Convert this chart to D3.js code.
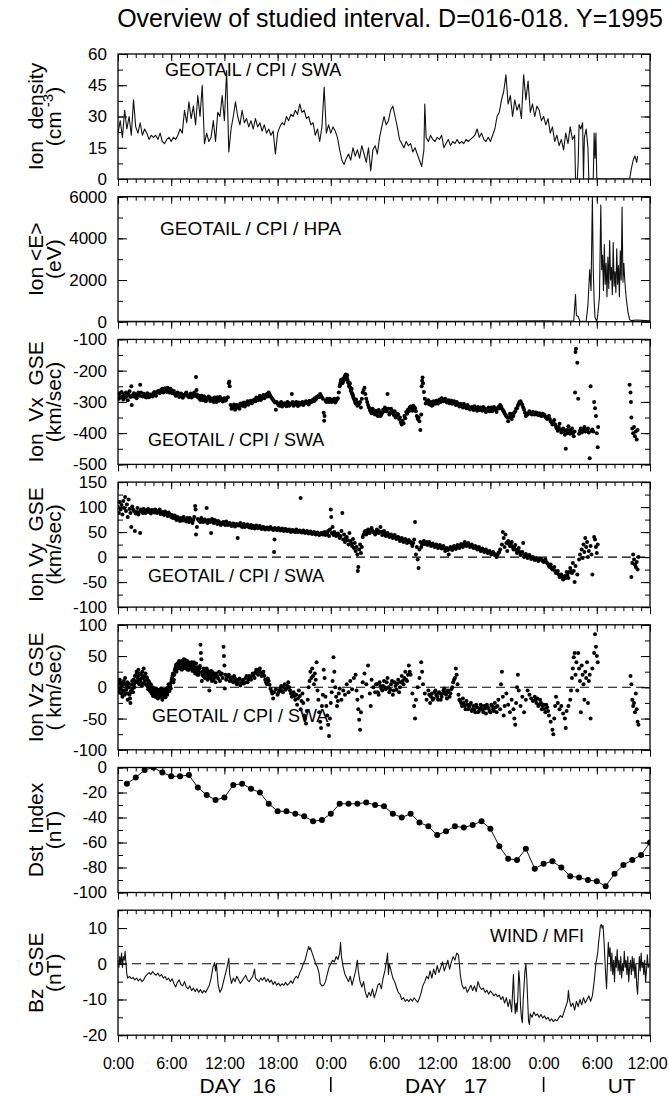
<!doctype html>
<html>
<head>
<meta charset="utf-8">
<title>Overview of studied interval</title>
<style>
  body { margin: 0; background: #fff; }
  text { font-family: "Liberation Sans", Arial, sans-serif; fill: #000; }
</style>
</head>
<body>
<script src="https://cdn.jsdelivr.net/npm/d3@7/dist/d3.min.js"></script>
<script>
// time is hours from 0:00 of day 16 (1995)

// ion density, cm-3  [hour, value]
var density = [
[0,22],[0.25,28],[0.5,20],[0.75,33],[1,24],[1.25,30],[1.5,21],[1.75,38],[2,25],[2.25,22],[2.5,27],[2.75,21],
[3,24],[3.25,22],[3.5,19],[3.75,21],[4,20],[4.25,21],[4.5,19],[4.75,22],[5,18],[5.25,17],[5.5,19],[5.75,20],
[6,18],[6.25,20],[6.5,19],[6.75,21],[7,24],[7.25,22],[7.5,33],[7.75,27],[8,37],[8.25,29],[8.5,35],[8.75,26],
[9,40],[9.25,30],[9.5,45],[9.75,17],[10,22],[10.25,18],[10.5,20],[10.75,28],[11,18],[11.25,32],[11.5,30],[11.75,40],
[12,28],[12.25,52],[12.5,13],[12.75,24],[13,30],[13.25,37],[13.5,30],[13.75,26],[14,33],[14.25,27],[14.5,29],[14.75,25],
[15,28],[15.25,24],[15.5,29],[15.75,25],[16,27],[16.25,23],[16.5,26],[16.75,22],[17,24],[17.25,21],[17.5,23],[17.75,12],
[18,22],[18.25,25],[18.5,27],[18.75,26],[19,30],[19.25,28],[19.5,31],[19.75,30],[20,33],[20.25,31],[20.5,36],[20.75,32],
[21,33],[21.25,29],[21.5,30],[21.75,26],[22,27],[22.25,21],[22.5,24],[22.75,18],[23,25],[23.25,44],[23.5,22],[23.75,26],
[24,22],[24.25,25],[24.5,23],[24.75,20],[25,14],[25.25,9],[25.5,7],[25.75,10],[26,12],[26.25,9],[26.5,15],[26.75,11],
[27,14],[27.25,10],[27.5,16],[27.75,12],[28,8],[28.25,15],[28.5,4],[28.75,14],[29,16],[29.25,12],[29.5,20],[29.75,25],
[30,30],[30.25,26],[30.5,28],[30.75,33],[31,35],[31.25,30],[31.5,25],[31.75,19],[32,17],[32.25,15],[32.5,18],[32.75,16],
[33,17],[33.25,13],[33.5,15],[33.75,12],[34,9],[34.25,6],[34.5,14],[34.6,36],[34.75,20],[35,18],[35.25,21],[35.5,19],
[35.75,18],[36,20],[36.25,19],[36.5,21],[36.75,15],[37,17],[37.25,19],[37.5,16],[37.75,18],[38,17],[38.25,19],[38.5,17],
[38.75,18],[39,17],[39.25,19],[39.5,18],[39.75,19],[40,20],[40.25,21],[40.5,24],[40.75,20],[41,22],[41.25,19],[41.5,18],
[41.75,20],[42,18],[42.25,21],[42.5,24],[42.75,30],[43,32],[43.25,38],[43.5,42],[43.75,50],[44,36],[44.25,40],[44.5,30],
[44.75,38],[45,33],[45.25,36],[45.5,29],[45.75,50],[46,38],[46.25,47],[46.5,32],[46.75,36],[47,30],[47.25,35],[47.5,33],
[47.75,28],[48,30],[48.25,26],[48.5,29],[48.75,22],[49,25],[49.25,18],[49.5,21],[49.75,16],[50,19],[50.25,14],[50.5,22],
[50.75,17],[51,25],[51.25,19],[51.5,21],[51.6,0],[51.8,0],[51.9,8],[52,26],[52.2,24],[52.4,27],[52.5,0],[52.6,20],
[52.8,24],[53,15],[53.1,0],[53.6,0],[53.7,22],[53.8,10],[53.9,22],[54,0],[57.7,0],[57.9,5],[58.1,9],[58.3,11],[58.5,8],[58.6,11]
];

// mean ion energy, eV  [hour, value]
var energy = [
[0,20],[10,25],[20,30],[30,20],[40,25],[48,40],[50,30],[51.4,30],[51.6,1300],[51.7,300],[51.9,250],[52.1,20],[52.8,20],
[53,800],[53.2,2500],[53.35,1500],[53.5,6000],[53.6,2500],[53.7,1000],[53.8,200],[54,0],[54.1,300],[54.3,1200],[54.45,5600],
[54.55,2500],[54.65,3200],[54.75,1500],[54.85,3700],[54.95,1800],[55.05,2800],[55.15,1200],[55.25,3100],[55.35,1600],
[55.45,3900],[55.55,2000],[55.65,2600],[55.75,1300],[55.85,3800],[55.95,1700],[56.05,2400],[56.15,1400],[56.25,3500],
[56.35,1800],[56.45,2700],[56.55,1200],[56.65,3400],[56.75,2000],[56.85,5500],[56.95,1900],[57.05,2800],[57.15,2000],
[57.3,1200],[57.5,500],[57.7,100],[57.9,50],[58.5,80],[60,40]
];

// ion Vx GSE, km/s  [hour, value]
var vx = [
[0,-278],[0.1,-290],[0.2,-272],[0.3,-285],[0.4,-268],[0.5,-282],[0.6,-292],[0.7,-275],[0.8,-286],[0.9,-270],[1,-281],
[1.1,-295],[1.2,-276],[1.3,-266],[1.4,-284],[1.5,-250],[1.55,-310],[1.6,-279],[1.8,-272],[2,-284],[2.2,-276],[2.4,-280],
[2.5,-245],[2.6,-270],[2.8,-283],[3,-278],[3.2,-286],[3.4,-275],[3.6,-281],[3.8,-279],[4,-272],[4.2,-277],[4.4,-270],
[4.6,-264],[4.8,-268],[5,-258],[5.2,-266],[5.4,-262],[5.6,-255],[5.8,-270],[6,-262],[6.2,-268],[6.4,-274],[6.6,-279],
[6.8,-272],[7,-281],[7.2,-276],[7.4,-283],[7.6,-275],[7.8,-279],[8,-285],[8.2,-273],[8.4,-280],[8.6,-270],[8.8,-220],
[8.85,-262],[8.9,-276],[9,-285],[9.2,-291],[9.4,-280],[9.6,-295],[9.8,-287],[10,-292],[10.2,-283],[10.4,-297],[10.6,-289],
[10.8,-300],[11,-293],[11.2,-285],[11.4,-296],[11.6,-290],[11.8,-299],[12,-288],[12.2,-294],[12.4,-285],[12.5,-240],
[12.55,-235],[12.6,-250],[12.7,-310],[12.8,-322],[13,-315],[13.2,-325],[13.4,-310],[13.6,-318],[13.8,-305],[14,-312],
[14.2,-302],[14.4,-308],[14.6,-298],[14.8,-303],[15,-296],[15.2,-300],[15.4,-292],[15.6,-286],[15.8,-295],[16,-280],
[16.2,-290],[16.4,-278],[16.6,-284],[16.8,-275],[17,-270],[17.2,-282],[17.4,-290],[17.6,-298],[17.8,-325],[18,-306],
[18.2,-312],[18.4,-300],[18.6,-310],[18.8,-304],[19,-314],[19.2,-303],[19.4,-309],[19.6,-275],[19.7,-300],[19.8,-312],
[20,-305],[20.2,-310],[20.4,-302],[20.6,-308],[20.8,-300],[21,-306],[21.2,-298],[21.4,-304],[21.6,-296],[21.8,-300],
[22,-292],[22.2,-288],[22.4,-284],[22.6,-280],[22.8,-275],[23,-285],[23.1,-290],[23.2,-335],[23.25,-360],[23.3,-345],
[23.4,-296],[23.6,-290],[23.8,-300],[24,-294],[24.2,-298],[24.4,-290],[24.6,-296],[24.8,-288],[24.9,-270],[25,-250],
[25.1,-238],[25.2,-232],[25.3,-240],[25.4,-225],[25.5,-228],[25.6,-218],[25.7,-212],[25.8,-222],[25.9,-230],[26,-238],
[26.1,-245],[26.2,-255],[26.3,-262],[26.4,-272],[26.5,-280],[26.6,-290],[26.7,-296],[26.8,-305],[26.9,-300],[27,-312],
[27.2,-305],[27.4,-318],[27.5,-290],[27.6,-270],[27.7,-262],[27.8,-255],[27.9,-275],[28,-290],[28.1,-300],[28.3,-318],
[28.5,-330],[28.7,-322],[28.9,-338],[29.1,-328],[29.3,-345],[29.5,-332],[29.7,-340],[29.9,-325],[30.1,-318],[30.3,-330],
[30.4,-275],[30.5,-322],[30.7,-335],[30.9,-328],[31.1,-342],[31.3,-350],[31.5,-338],[31.7,-355],[31.9,-365],[32,-372],
[32.1,-360],[32.3,-345],[32.5,-332],[32.7,-325],[32.9,-318],[33.1,-322],[33.3,-312],[33.5,-320],[33.7,-345],[33.8,-355],
[33.9,-350],[34,-362],[34.1,-390],[34.2,-340],[34.25,-250],[34.3,-232],[34.35,-222],[34.4,-240],[34.5,-268],[34.6,-290],
[34.7,-305],[34.9,-298],[35.1,-308],[35.3,-300],[35.5,-310],[35.7,-302],[35.9,-296],[36.1,-305],[36.3,-292],[36.5,-288],
[36.7,-298],[36.9,-290],[37.1,-302],[37.3,-295],[37.5,-300],[37.7,-306],[37.9,-298],[38.1,-310],[38.3,-304],[38.5,-315],
[38.7,-308],[38.9,-318],[39.1,-312],[39.3,-320],[39.5,-314],[39.7,-324],[39.9,-316],[40.1,-326],[40.3,-318],[40.5,-328],
[40.7,-320],[40.9,-318],[41.1,-328],[41.3,-320],[41.5,-332],[41.7,-322],[41.9,-330],[42.1,-318],[42.3,-326],[42.5,-320],
[42.7,-332],[42.9,-316],[43.1,-310],[43.3,-322],[43.5,-330],[43.7,-342],[43.9,-350],[44,-362],[44.2,-338],[44.4,-355],
[44.6,-345],[44.8,-330],[45,-320],[45.2,-305],[45.4,-298],[45.6,-310],[45.8,-325],[46,-345],[46.2,-340],[46.4,-330],
[46.6,-338],[46.8,-332],[47,-340],[47.2,-335],[47.4,-342],[47.6,-338],[47.8,-345],[48,-340],[48.2,-348],[48.4,-355],
[48.6,-345],[48.8,-362],[49,-372],[49.2,-358],[49.4,-380],[49.6,-392],[49.8,-370],[50,-398],[50.2,-385],[50.4,-405],
[50.5,-450],[50.6,-390],[50.8,-378],[51,-402],[51.2,-385],[51.4,-410],[51.5,-395],[51.55,-270],[51.6,-140],[51.65,-130],
[51.8,-175],[51.9,-290],[52,-402],[52.2,-385],[52.4,-395],[52.6,-380],[52.8,-392],[53,-385],[53.1,-398],[53.2,-480],
[53.3,-250],[53.5,-388],[53.7,-300],[53.8,-320],[53.9,-345],[54,-400],[54.1,-445],[54.15,-380],
[57.7,-245],[57.8,-270],[57.85,-300],[57.9,-350],[58,-385],[58.1,-400],[58.2,-380],[58.3,-410],[58.4,-395],[58.5,-420],[58.6,-390],
// in-between samples
[1.7,-283],[1.9,-275],[2.1,-288],[2.3,-270],[2.7,-282],[2.9,-274],[3.1,-284],[3.3,-272],[3.5,-285],[3.7,-276],[3.9,-283],
[4.1,-268],[4.3,-280],[4.5,-266],[4.7,-272],[4.9,-260],[5.1,-270],[5.3,-256],[5.5,-268],[5.7,-262],[5.9,-258],[6.1,-272],
[6.3,-265],[6.5,-280],[6.7,-270],[6.9,-284],[7.1,-273],[7.3,-287],[7.5,-278],[7.7,-270],[7.9,-282],[8.1,-278],[8.3,-286],
[8.5,-275],[8.7,-281],[9.1,-280],[9.3,-294],[9.5,-286],[9.7,-282],[9.9,-298],[10.1,-288],[10.3,-284],[10.5,-292],[10.7,-296],
[10.9,-286],[11.1,-300],[11.3,-291],[11.5,-284],[11.7,-295],[11.9,-290],[12.1,-296],[12.3,-287],[12.9,-318],[13.1,-308],
[13.3,-320],[13.5,-314],[13.7,-322],[13.9,-310],[14.1,-304],[14.3,-315],[14.5,-305],[14.7,-309],[14.9,-298],[15.1,-304],
[15.3,-295],[15.5,-298],[15.7,-290],[15.9,-287],[16.1,-294],[16.3,-284],[16.5,-288],[16.7,-279],[16.9,-283],[17.1,-276],
[17.3,-286],[17.5,-294],[17.7,-302],[17.9,-300],[18.1,-310],[18.3,-304],[18.5,-315],[18.7,-306],[18.9,-310],[19.1,-300],
[19.3,-312],[19.5,-305],[19.9,-306],[20.1,-300],[20.3,-313],[20.5,-306],[20.7,-303],[20.9,-310],[21.1,-302],[21.3,-300],
[21.5,-308],[21.7,-302],[21.9,-296],[22.1,-298],[22.3,-292],[22.5,-286],[22.7,-284],[22.9,-280],[23.5,-300],[23.7,-294],
[23.9,-290],[24.1,-300],[24.3,-292],[24.5,-302],[24.7,-292],[25.05,-245],[25.15,-230],[25.35,-236],[25.45,-232],
[25.55,-222],[25.65,-215],[25.75,-225],[25.85,-215],[25.95,-238],[26.05,-250],[26.15,-240],[26.25,-265],[26.35,-258],
[26.45,-276],[26.55,-286],[26.75,-300],[26.85,-292],[27.1,-308],[27.3,-300],[28.2,-310],[28.4,-325],[28.6,-336],[28.8,-326],
[29,-340],[29.2,-335],[29.4,-326],[29.6,-345],[29.8,-335],[30,-330],[30.2,-322],[30.6,-340],[30.8,-322],[31,-336],
[31.2,-330],[31.4,-345],[31.6,-340],[31.8,-350],[32.2,-368],[32.4,-352],[32.6,-338],[32.8,-330],[33,-315],[33.2,-328],
[33.4,-316],[33.6,-330],[34.8,-300],[35,-295],[35.2,-304],[35.4,-312],[35.6,-298],[35.8,-306],[36,-300],[36.2,-294],
[36.4,-300],[36.6,-292],[36.8,-296],[37,-294],[37.2,-298],[37.4,-304],[37.6,-296],[37.8,-302],[38,-304],[38.2,-300],
[38.4,-310],[38.6,-306],[38.8,-312],[39,-306],[39.2,-316],[39.4,-310],[39.6,-318],[39.8,-320],[40,-320],[40.2,-314],
[40.4,-322],[40.6,-316],[40.8,-326],[41,-322],[41.2,-316],[41.4,-324],[41.6,-328],[41.8,-318],[42,-326],[42.2,-330],
[42.4,-316],[42.6,-324],[42.8,-322],[43,-320],[43.2,-315],[43.4,-326],[43.6,-336],[43.8,-345],[44.1,-350],[44.3,-345],
[44.5,-338],[44.7,-335],[44.9,-322],[45.1,-312],[45.3,-300],[45.5,-305],[45.7,-318],[45.9,-335],[46.1,-340],[46.3,-336],
[46.5,-334],[46.7,-340],[46.9,-336],[47.1,-334],[47.3,-340],[47.5,-336],[47.7,-344],[47.9,-338],[48.1,-342],[48.3,-350],
[48.5,-350],[48.7,-355],[48.9,-366],[49.1,-365],[49.3,-372],[49.5,-385],[49.7,-380],[49.9,-388],[50.1,-392],[50.3,-395],
[50.7,-400],[50.9,-390],[51.1,-395],[51.3,-400],[52.1,-392],[52.3,-398],[52.5,-388],[52.7,-395],[52.9,-388],[53.4,-392],[53.6,-395]
];

// ion Vy GSE, km/s  [hour, value]
var vy = [
[0,100],[0.1,88],[0.2,110],[0.3,95],[0.4,104],[0.5,85],[0.6,112],[0.7,98],[0.8,120],[0.9,92],[1,105],[1.1,80],[1.2,115],
[1.3,96],[1.4,88],[1.5,60],[1.6,101],[1.8,92],[1.9,52],[2,87],[2.2,98],[2.4,90],[2.5,48],[2.6,95],[2.8,88],[3,93],
[3.2,90],[3.4,96],[3.6,89],[3.8,94],[4,91],[4.2,95],[4.4,88],[4.6,92],[4.8,86],[5,90],[5.2,84],[5.4,88],[5.6,82],
[5.8,86],[6,80],[6.2,78],[6.4,83],[6.6,74],[6.8,78],[7,72],[7.2,76],[7.4,80],[7.6,74],[7.8,78],[8,70],[8.2,75],[8.4,68],
[8.6,80],[8.7,102],[8.75,95],[8.8,45],[8.9,60],[9,76],[9.2,72],[9.4,78],[9.6,70],[9.8,75],[10,98],[10.1,68],[10.2,74],
[10.4,70],[10.5,48],[10.6,76],[10.8,68],[11,72],[11.2,66],[11.4,70],[11.6,64],[11.8,69],[12,66],[12.2,71],[12.4,64],
[12.6,68],[12.8,62],[13,67],[13.2,61],[13.4,66],[13.5,38],[13.6,63],[13.8,68],[14,60],[14.2,66],[14.4,62],[14.6,65],
[14.8,59],[15,64],[15.2,60],[15.4,57],[15.6,63],[15.8,58],[16,62],[16.2,56],[16.4,60],[16.6,55],[16.8,59],[17,55],
[17.2,60],[17.4,56],[17.6,10],[17.65,35],[17.7,58],[17.9,54],[18.1,58],[18.3,53],[18.5,57],[18.7,52],[18.9,56],[19.1,52],
[19.3,55],[19.5,50],[19.7,54],[19.9,51],[20.1,55],[20.3,50],[20.5,53],[20.6,118],[20.7,49],[20.9,53],[21.1,48],[21.3,52],
[21.5,47],[21.7,51],[21.9,46],[22.1,50],[22.3,45],[22.5,49],[22.7,44],[22.9,48],[23.1,45],[23.3,50],[23.5,46],[23.7,52],
[23.8,42],[23.9,55],[24,95],[24.05,80],[24.1,48],[24.2,60],[24.3,44],[24.4,50],[24.6,42],[24.8,47],[25,38],[25.2,52],
[25.3,88],[25.4,35],[25.5,45],[25.6,30],[25.8,40],[26,25],[26.1,48],[26.2,32],[26.4,22],[26.5,36],[26.6,18],[26.7,28],
[26.8,12],[26.9,20],[27,5],[27.05,-28],[27.1,-20],[27.2,15],[27.3,25],[27.4,8],[27.5,20],[27.6,40],[27.8,50],[28,45],
[28.2,55],[28.4,48],[28.6,58],[28.8,50],[29,45],[29.2,55],[29.4,48],[29.6,60],[29.8,44],[30,52],[30.2,42],[30.4,48],
[30.6,40],[30.8,45],[31,38],[31.2,44],[31.4,36],[31.6,40],[31.8,32],[32,38],[32.2,30],[32.4,36],[32.6,28],[32.8,34],
[33,30],[33.2,22],[33.4,35],[33.5,70],[33.6,5],[33.7,20],[33.8,-5],[33.9,-22],[34,15],[34.1,30],[34.3,25],[34.5,32],
[34.7,28],[34.9,24],[35.1,30],[35.3,22],[35.5,27],[35.7,20],[35.9,25],[36.1,18],[36.3,24],[36.5,17],[36.7,22],[36.9,12],
[37.1,18],[37.3,5],[37.5,20],[37.7,14],[37.9,22],[38.1,16],[38.3,24],[38.5,18],[38.7,26],[38.9,20],[39.1,30],[39.3,22],
[39.5,28],[39.7,20],[39.9,25],[40.1,18],[40.3,22],[40.5,15],[40.7,20],[40.9,12],[41.1,17],[41.3,10],[41.5,15],[41.7,8],
[41.9,12],[42.1,5],[42.3,10],[42.5,4],[42.7,0],[42.9,8],[43.1,15],[43.3,25],[43.4,50],[43.5,38],[43.6,20],[43.7,45],
[43.8,28],[43.9,12],[44,32],[44.2,22],[44.4,30],[44.6,15],[44.8,24],[45,8],[45.2,18],[45.4,4],[45.6,10],[45.7,28],
[45.8,0],[46,6],[46.2,-2],[46.4,4],[46.6,-4],[46.8,0],[47,-6],[47.2,-2],[47.4,-8],[47.6,-4],[47.8,-6],[48,-10],[48.2,-5],
[48.4,-12],[48.6,-18],[48.8,-15],[49,-25],[49.2,-20],[49.4,-32],[49.6,-28],[49.8,-40],[50,-35],[50.2,-45],[50.4,-38],
[50.6,-30],[50.8,-42],[51,-22],[51.2,-32],[51.3,-12],[51.4,-28],[51.5,-50],[51.6,-18],[51.8,-35],[52,-5],[52.1,5],
[52.3,15],[52.4,-2],[52.5,25],[52.6,10],[52.7,38],[52.8,20],[52.9,30],[53,0],[53.1,12],[53.3,22],[53.4,5],[53.5,-35],
[53.7,40],[53.8,35],[53.9,20],[54,8],[54.1,25],
[57.9,-40],[58,-12],[58.1,5],[58.2,-5],[58.3,-15],[58.4,-20],[58.5,-10],[58.6,-25],[58.7,0],
// in-between samples
[1.7,95],[2.1,90],[2.3,85],[2.7,92],[2.9,96],[3.1,88],[3.3,94],[3.5,91],[3.7,87],[3.9,93],[4.1,89],[4.3,92],[4.5,90],
[4.7,95],[4.9,88],[5.1,86],[5.3,91],[5.5,85],[5.7,89],[5.9,83],[6.1,84],[6.3,79],[6.5,77],[6.7,80],[6.9,75],[7.1,78],
[7.3,73],[7.5,76],[7.7,71],[7.9,74],[8.1,78],[8.3,72],[8.5,74],[9.1,74],[9.3,70],[9.5,75],[9.7,73],[9.9,71],[10.3,72],
[10.7,71],[10.9,74],[11.1,69],[11.3,72],[11.5,68],[11.7,67],[11.9,70],[12.1,64],[12.3,68],[12.5,66],[12.7,65],[12.9,64],
[13.1,63],[13.3,65],[13.7,64],[13.9,62],[14.1,64],[14.3,60],[14.5,63],[14.7,61],[14.9,62],[15.1,58],[15.3,62],[15.5,60],
[15.7,59],[15.9,61],[16.1,58],[16.3,59],[16.5,57],[16.7,58],[16.9,56],[17.1,58],[17.3,57],[17.5,54],[17.8,56],[18,55],
[18.2,56],[18.4,55],[18.6,54],[18.8,55],[19,53],[19.2,54],[19.4,52],[19.6,53],[19.8,52],[20,50],[20.2,53],[20.4,51],
[20.8,51],[21,50],[21.2,50],[21.4,49],[21.6,49],[21.8,48],[22,48],[22.2,47],[22.4,47],[22.6,46],[22.8,46],[23,47],
[23.2,48],[23.4,44],[23.6,48],[24.5,46],[24.7,45],[24.9,44],[25.1,42],[25.7,38],[25.9,34],[26.3,28],[27.7,45],[27.9,52],
[28.1,48],[28.3,52],[28.5,54],[28.7,53],[28.9,48],[29.1,50],[29.3,52],[29.5,51],[29.7,50],[29.9,49],[30.1,48],[30.3,46],
[30.5,44],[30.7,43],[30.9,42],[31.1,41],[31.3,40],[31.5,39],[31.7,37],[31.9,36],[32.1,34],[32.3,33],[32.5,32],[32.7,31],
[32.9,30],[33.1,27],[33.3,28],[34.2,20],[34.4,28],[34.6,26],[34.8,30],[35,26],[35.2,27],[35.4,24],[35.6,23],[35.8,22],
[36,21],[36.2,20],[36.4,21],[36.6,19],[36.8,18],[37,15],[37.2,14],[37.4,16],[37.6,18],[37.8,18],[38,20],[38.2,20],
[38.4,22],[38.6,22],[38.8,24],[39,25],[39.2,26],[39.4,25],[39.6,24],[39.8,22],[40,21],[40.2,20],[40.4,19],[40.6,17],
[40.8,16],[41,14],[41.2,13],[41.4,12],[41.6,11],[41.8,10],[42,9],[42.2,8],[42.4,7],[42.6,5],[42.8,4],[43,10],[44.1,26],
[44.3,25],[44.5,20],[44.7,18],[44.9,14],[45.1,12],[45.3,10],[45.5,6],[45.9,4],[46.1,2],[46.3,1],[46.5,0],[46.7,-2],
[46.9,-3],[47.1,-4],[47.3,-5],[47.5,-6],[47.7,-4],[47.9,-8],[48.1,-8],[48.3,-10],[48.5,-14],[48.7,-20],[48.9,-22],
[49.1,-22],[49.3,-28],[49.5,-30],[49.7,-35],[49.9,-38],[50.1,-40],[50.3,-42],[50.5,-42],[50.7,-36],[50.9,-30],[51.1,-28]
];

// ion Vz GSE, km/s  [hour, value]
var vz = [
[0,0],[0.1,-8],[0.2,12],[0.3,-2],[0.4,5],[0.5,-15],[0.6,8],[0.7,-5],[0.8,15],[0.9,-10],[1,3],[1.1,-20],[1.2,6],[1.3,-12],
[1.4,-25],[1.5,-5],[1.6,10],[1.7,-8],[1.8,5],[1.9,18],[2,8],[2.1,25],[2.2,15],[2.3,28],[2.4,5],[2.5,12],[2.6,20],[2.7,2],
[2.8,15],[2.9,30],[3,10],[3.1,22],[3.2,5],[3.3,12],[3.4,-3],[3.5,8],[3.6,-6],[3.7,5],[3.8,-10],[3.9,0],[4,-12],[4.1,-5],
[4.2,-15],[4.3,-2],[4.4,-8],[4.5,-18],[4.6,-10],[4.7,-4],[4.8,-14],[4.9,-7],[5,-20],[5.1,-9],[5.2,-15],[5.3,-5],[5.4,-12],
[5.5,-2],[5.6,-8],[5.7,5],[5.8,-6],[5.9,2],[6,8],[6.1,15],[6.2,22],[6.3,12],[6.4,28],[6.5,32],[6.6,25],[6.7,38],[6.8,30],
[6.9,42],[7,33],[7.1,40],[7.2,28],[7.3,36],[7.4,45],[7.5,32],[7.6,38],[7.7,30],[7.8,42],[7.9,35],[8,28],[8.1,38],[8.2,32],
[8.3,40],[8.4,26],[8.5,35],[8.6,30],[8.7,22],[8.8,38],[8.9,25],[9,32],[9.1,20],[9.2,30],[9.3,68],[9.35,55],[9.4,45],
[9.45,10],[9.5,25],[9.6,18],[9.7,28],[9.8,15],[9.9,24],[10,30],[10.1,12],[10.2,22],[10.3,-5],[10.4,18],[10.5,26],[10.6,10],
[10.7,20],[10.8,14],[10.9,22],[11,8],[11.2,18],[11.4,25],[11.5,10],[11.6,20],[11.8,15],[11.9,65],[11.95,50],[12,35],
[12.05,-2],[12.1,20],[12.2,12],[12.4,18],[12.6,10],[12.8,16],[13,8],[13.2,14],[13.4,5],[13.6,12],[13.8,3],[14,10],[14.2,6],
[14.4,15],[14.6,8],[14.8,18],[15,12],[15.2,22],[15.4,15],[15.6,28],[15.8,20],[16,30],[16.2,18],[16.4,25],[16.6,12],[16.8,5],
[17,10],[17.2,-2],[17.4,-10],[17.5,-18],[17.6,-8],[17.8,-3],[18,-12],[18.2,-5],[18.4,2],[18.6,-8],[18.8,5],[19,-2],[19.2,8],
[19.4,-5],[19.6,-15],[19.8,-8],[20,-20],[20.1,-12],[20.2,-28],[20.3,-18],[20.4,-5],[20.5,-14],[20.6,-35],[20.7,-22],
[20.8,-10],[20.9,-25],[21,-45],[21.1,-50],[21.2,-58],[21.3,-38],[21.4,-20],[21.5,0],[21.6,10],[21.7,25],[21.8,15],[21.9,30],
[22,18],[22.1,5],[22.2,22],[22.3,12],[22.4,40],[22.5,-5],[22.6,-20],[22.7,-40],[22.8,-55],[22.9,-65],[23,-30],[23.1,-12],
[23.2,28],[23.3,15],[23.4,-15],[23.5,-30],[23.6,-45],[23.7,-60],[23.8,-78],[23.9,-50],[24,-25],[24.1,-8],[24.2,10],[24.3,48],
[24.4,25],[24.5,0],[24.6,-15],[24.7,-30],[24.8,-22],[24.9,-10],[25,-2],[25.2,-20],[25.4,-5],[25.6,-12],[25.8,5],[26,-8],
[26.2,10],[26.4,-3],[26.6,15],[26.8,20],[26.9,-5],[27,-20],[27.1,-35],[27.2,-52],[27.3,-68],[27.4,-40],[27.5,-15],[27.6,8],
[27.8,22],[28,5],[28.2,35],[28.4,-10],[28.5,-30],[28.6,12],[28.8,0],[29,-8],[29.2,5],[29.4,-12],[29.6,2],[29.8,-5],[30,10],
[30.2,-3],[30.4,15],[30.6,-8],[30.8,5],[31,-12],[31.2,8],[31.4,-4],[31.6,12],[31.8,0],[32,18],[32.2,5],[32.4,25],[32.6,10],
[32.8,35],[33,20],[33.2,-10],[33.4,-30],[33.5,-50],[33.6,-20],[33.8,0],[34,15],[34.2,40],[34.3,25],[34.4,5],[34.6,-10],
[34.8,-20],[35,-5],[35.2,-25],[35.4,-10],[35.6,-18],[35.8,-5],[36,-15],[36.2,-8],[36.4,-20],[36.6,-10],[36.8,-2],[37,-12],
[37.2,-5],[37.4,-15],[37.6,-3],[37.8,8],[38,15],[38.1,30],[38.2,20],[38.3,5],[38.4,-12],[38.5,-20],[38.7,-25],[38.9,-18],
[39.1,-30],[39.3,-22],[39.5,-35],[39.7,-28],[39.9,-38],[40.1,-30],[40.3,-40],[40.5,-32],[40.7,-38],[40.9,-28],[41.1,-36],
[41.3,-30],[41.5,-42],[41.7,-32],[41.9,-38],[42.1,-28],[42.3,-35],[42.5,-25],[42.7,-40],[42.9,-20],[43.1,-35],[43.2,5],
[43.3,25],[43.4,-15],[43.5,-45],[43.6,-30],[43.8,-10],[44,-28],[44.2,-40],[44.4,-20],[44.6,-35],[44.7,-50],[44.8,-60],
[44.9,-25],[45,0],[45.1,20],[45.2,-5],[45.4,-30],[45.6,-15],[45.8,-40],[46,-20],[46.2,-5],[46.4,-12],[46.6,-18],[46.8,-22],
[47,-15],[47.2,-25],[47.4,-30],[47.6,-20],[47.8,-35],[48,-28],[48.2,-40],[48.4,-32],[48.6,-45],[48.8,-55],[49,-68],[49.1,-75],
[49.2,-50],[49.3,-30],[49.4,-15],[49.6,-25],[49.8,-35],[50,-30],[50.2,-42],[50.4,-50],[50.5,-65],[50.6,-38],[50.8,-30],
[51,-20],[51.1,-5],[51.2,15],[51.3,30],[51.4,48],[51.5,55],[51.6,20],[51.7,40],[51.8,-5],[51.9,55],[52,30],[52.1,10],
[52.2,-40],[52.3,35],[52.4,20],[52.5,5],[52.6,-20],[52.7,25],[52.8,15],[52.9,40],[53,-25],[53.1,10],[53.2,20],[53.3,-50],
[53.5,30],[53.7,55],[53.8,85],[53.9,65],[54,50],[54.1,40],
[57.8,18],[57.9,5],[58,-20],[58.1,-30],[58.2,-25],[58.3,-40],[58.4,-10],[58.5,-35],[58.6,-55],[58.7,-60],
// in-between samples
[0.05,5],[0.15,-3],[0.25,8],[0.35,-10],[0.45,2],[0.55,-6],[0.65,10],[0.75,-12],[0.85,4],[0.95,-4],[1.05,8],[1.15,-10],
[1.25,0],[1.35,-18],[1.45,-8],[1.55,4],[1.65,-2],[1.75,12],[1.85,0],[1.95,10],[2.05,20],[2.15,8],[2.25,18],[2.35,10],
[2.45,22],[2.55,8],[2.65,14],[2.75,25],[2.85,6],[2.95,18],[3.05,14],[3.15,4],[3.25,16],[3.35,2],[3.45,10],[3.55,-2],
[3.65,0],[3.75,-8],[3.85,-4],[3.95,-14],[4.05,-8],[4.15,-2],[4.25,-10],[4.35,-12],[4.45,-4],[4.55,-10],[4.65,-16],
[4.75,-8],[4.85,-2],[4.95,-12],[5.05,-14],[5.15,-4],[5.25,-10],[5.35,-16],[5.45,-6],[5.55,-12],[5.65,0],[5.75,-4],
[5.85,4],[5.95,-2],[6.05,12],[6.15,18],[6.25,8],[6.35,20],[6.45,26],[6.55,36],[6.65,30],[6.75,34],[6.85,40],[6.95,36],
[7.05,30],[7.15,35],[7.25,42],[7.35,30],[7.45,38],[7.55,44],[7.65,34],[7.75,36],[7.85,28],[7.95,40],[8.05,34],[8.15,30],
[8.25,36],[8.35,34],[8.45,30],[8.55,40],[8.65,26],[8.75,32],[8.85,28],[8.95,20],[9.05,28],[9.15,24],[9.25,34],[9.55,20],
[9.65,30],[9.75,22],[9.85,18],[9.95,28],[10.05,20],[10.15,26],[10.25,16],[10.35,22],[10.45,14],[10.55,20],[10.65,24],
[10.75,12],[10.85,18],[10.95,16],[11.1,22],[11.3,14],[11.7,22],[12.3,16],[12.5,20],[12.7,14],[12.9,10],[13.1,18],[13.3,10],
[13.5,8],[13.7,14],[13.9,6],[14.1,12],[14.3,8],[14.5,18],[14.7,12],[14.9,14],[15.1,18],[15.3,20],[15.5,24],[15.7,22],
[15.9,26],[16.1,24],[16.3,22],[16.5,18],[16.7,8],[16.9,14],[17.1,4],[17.3,-6],[18.1,-8],[18.3,-2],[18.5,-6],[18.7,0],
[18.9,-4],[19.1,2],[19.3,0],[19.5,-10],[19.7,-12],[19.9,-14],[29.1,5],[29.3,-8],[29.5,8],[29.7,-2],[29.9,2],[30.1,0],
[30.3,8],[30.5,0],[30.7,-4],[30.9,10],[31.1,-5],[31.3,2],[31.5,6],[31.7,-8],[31.9,8],[32.1,10],[32.3,15],[32.5,12],
[32.7,20],[32.9,25],[35.1,-12],[35.3,-15],[35.5,-20],[35.7,-8],[35.9,-12],[36.1,-20],[36.3,-10],[36.5,-15],[36.7,-5],
[36.9,-8],[37.1,-18],[37.3,-8],[37.5,-10],[37.7,0],[37.9,12],[38.6,-22],[38.8,-30],[39,-25],[39.2,-35],[39.4,-28],
[39.6,-32],[39.8,-25],[40,-35],[40.2,-36],[40.4,-28],[40.6,-40],[40.8,-34],[41,-30],[41.2,-40],[41.4,-34],[41.6,-28],
[41.8,-34],[42,-40],[42.2,-30],[42.4,-38],[42.6,-32],[42.8,-30],[47.1,-20],[47.3,-18],[47.5,-28],[47.7,-25],[47.9,-30],
[48.1,-35],[48.3,-28],[48.5,-38]
];

// hourly Dst index, nT, for hours 1..60
var dstValues = [
-13,-8,-2,0,-4,-7,-7,-6,-16,-22,-26,-24,-14,-13,-17,-20,-29,-35,-35,-37,
-39,-43,-42,-37,-29,-29,-29,-28,-30,-31,-37,-40,-37,-44,-47,-54,-51,-47,-48,-46,
-43,-49,-63,-73,-74,-65,-81,-77,-75,-80,-87,-88,-90,-91,-95,-85,-78,-74,-70,-60
];

// WIND Bz GSE, nT  [hour, value]
var bz = [
[0,1],[0.1,-1],[0.2,2],[0.3,0],[0.4,3],[0.5,-1],[0.6,2],[0.7,1],[0.8,3.5],[0.9,0],[1,-3],[1.1,-4],[1.3,-3.5],[1.5,-4.2],
[1.7,-3.8],[1.9,-4.5],[2.1,-4],[2.3,-4.8],[2.5,-4.2],[2.7,-5],[2.9,-4.5],[3.1,-3.5],[3.3,-3],[3.5,-2.5],[3.7,-3],[3.9,-2.2],
[4.1,-2.8],[4.3,-3.2],[4.5,-2.6],[4.7,-3.5],[4.9,-3],[5.1,-4],[5.3,-3.6],[5.5,-4.5],[5.7,-4],[5.9,-5],[6.1,-4.2],[6.3,-5.5],
[6.5,-6.5],[6.7,-5.2],[6.9,-4.5],[7.1,-5.8],[7.3,-6.2],[7.5,-5],[7.7,-6.5],[7.9,-7],[8.1,-6.2],[8.3,-7.5],[8.5,-6.8],
[8.7,-7.8],[8.9,-7],[9.1,-8],[9.3,-7.2],[9.5,-8.2],[9.7,-7.5],[9.9,-8],[10.1,-7],[10.3,-6],[10.5,-4],[10.7,-1],[10.9,0.3],
[11,-2],[11.1,0],[11.3,-6],[11.5,-8],[11.7,-7],[11.9,-5],[12.1,-3],[12.3,-1],[12.5,1.5],[12.6,-3],[12.8,-5.5],[13,-4],
[13.2,-5],[13.4,-3.5],[13.6,-4.5],[13.8,-5.5],[14,-4.8],[14.2,-4],[14.4,-3.2],[14.6,-4.5],[14.8,-5],[15,-4.2],[15.2,-3.5],
[15.4,-1.5],[15.5,-4],[15.7,-4.5],[15.9,-5],[16.1,-4],[16.3,-4.6],[16.5,-3.8],[16.7,-5],[16.9,-4.2],[17.1,-5.2],[17.3,-4.6],
[17.5,-5.8],[17.7,-5],[17.9,-6],[18.1,-5.4],[18.3,-6.2],[18.5,-5.6],[18.7,-6],[18.9,-5.2],[19.1,-6],[19.3,-5.5],[19.5,-4.8],
[19.7,-5.5],[19.9,-4.2],[20.1,-3.5],[20.3,-4],[20.5,-2.5],[20.7,-1.5],[20.9,0],[21.1,1],[21.3,3],[21.5,4.8],[21.6,4],
[21.7,4.5],[21.9,3],[22.1,1.5],[22.3,0],[22.5,-1],[22.7,-3],[22.8,-5.5],[23,-6.2],[23.2,-6],[23.4,-5],[23.6,-3],[23.8,-1],
[24,0],[24.2,1],[24.4,0.5],[24.6,2],[24.8,1.2],[25,3],[25.1,6],[25.2,2],[25.4,-1],[25.6,-3],[25.8,-4],[26,-5],[26.2,-3.5],
[26.4,-6],[26.6,-4],[26.8,-2],[27,1],[27.1,-2],[27.3,-5],[27.5,-6.5],[27.7,-5],[27.9,-8],[28.1,-9.5],[28.3,-8],[28.5,-9],
[28.7,-7],[28.9,-9.5],[29.1,-8],[29.3,-6],[29.5,-5.5],[29.7,-7],[29.9,-4],[30.1,-2],[30.3,1],[30.4,3],[30.5,-3],[30.6,0],
[30.8,-2],[31,-4],[31.2,-5],[31.4,-6.5],[31.6,-8],[31.8,-8.5],[32,-10],[32.2,-9.5],[32.4,-10.5],[32.6,-10],[32.8,-10.6],
[33,-9.8],[33.2,-10.5],[33.4,-9.5],[33.6,-10.2],[33.8,-10.8],[34,-9.6],[34.2,-8],[34.4,-6],[34.6,-5],[34.8,-3.5],[35,-4.2],
[35.2,-2],[35.4,-4],[35.6,-1.5],[35.8,-3],[36,-0.5],[36.2,-2.5],[36.4,-1],[36.6,0.5],[36.8,-2],[37,-0.5],[37.2,1],[37.4,-1.5],
[37.6,0.5],[37.8,2],[38,1],[38.2,3],[38.4,2.5],[38.5,0],[38.6,-3],[38.8,-6],[39,-7],[39.2,-6.5],[39.4,-8],[39.6,-7],[39.8,-6],
[40,-7.5],[40.2,-6.2],[40.4,-7.8],[40.6,-5],[40.8,-6.5],[41,-7.2],[41.2,-6.8],[41.4,-8],[41.6,-7.4],[41.8,-8.5],[42,-7.6],
[42.2,-8.2],[42.4,-9],[42.6,-8.4],[42.8,-9.2],[43,-8.8],[43.2,-10],[43.4,-9.2],[43.6,-11],[43.8,-9.5],[44,-12],[44.2,-10],
[44.4,-13.5],[44.5,-8],[44.6,-3],[44.7,-10],[44.8,-14],[44.9,-11],[45,-13.5],[45.1,-9],[45.2,-2],[45.3,-5],[45.4,-12],
[45.5,-15],[45.6,-16.5],[45.7,-10],[45.8,-6],[45.9,-2],[46,0],[46.1,-4],[46.2,-10],[46.3,-16],[46.4,-17],[46.5,-14],
[46.7,-15],[46.9,-13.5],[47.1,-14.5],[47.3,-14],[47.5,-15],[47.7,-14.2],[47.9,-15.2],[48.1,-14.6],[48.3,-15.5],[48.5,-15],
[48.7,-16],[48.9,-15.4],[49.1,-16.2],[49.3,-15.6],[49.5,-16],[49.7,-15.2],[49.9,-14.5],[50.1,-15],[50.3,-13.5],[50.5,-12],
[50.7,-10.5],[50.8,-7.5],[50.9,-10],[51.1,-12],[51.3,-11],[51.5,-13],[51.7,-10.5],[51.9,-12],[52.1,-10],[52.3,-11.5],
[52.5,-9.5],[52.7,-11],[52.9,-10],[53.1,-9],[53.3,-10.5],[53.5,-9],[53.7,-5],[53.9,0],[54.1,3],[54.2,6],[54.3,8],[54.4,10.5],
[54.5,11],[54.6,10],[54.7,10.8],[54.8,7],[54.9,2],[55,-3],[55.1,-7],[55.2,0],[55.3,6],[55.4,2],[55.5,4.5],[55.6,-2],[55.7,3],
[55.8,-3],[55.9,1],[56,-5],[56.1,2],[56.2,-1],[56.3,4],[56.4,-2],[56.5,1],[56.6,-3],[56.7,2],[56.8,-4],[56.9,0],[57,-2],
[57.1,3.5],[57.2,-1],[57.3,1],[57.4,-3],[57.5,2],[57.6,-5],[57.7,-1],[57.8,1],[57.9,-3],[58,2],[58.1,-2],[58.2,1.5],
[58.3,-4],[58.4,0],[58.5,-6],[58.6,-8.5],[58.7,-3],[58.8,2],[58.9,-2],[59,3],[59.1,-1],[59.2,0.5],[59.3,-3],[59.4,1],
[59.5,-5],[59.6,-2],[59.7,2.5],[59.8,-1],[60,0]
];

// tick values
var hourTicks = [0, 6, 12, 18, 24, 30, 36, 42, 48, 54, 60];
var densityTicks = [0, 15, 30, 45, 60];
var energyTicks = [0, 2000, 4000, 6000];
var vxTicks = [-500, -400, -300, -200, -100];
var vyTicks = [-100, -50, 0, 50, 100, 150];
var vzTicks = [-100, -50, 0, 50, 100];
var dstTicks = [-100, -80, -60, -40, -20, 0];
var bzTicks = [-20, -10, 0, 10];

var titleText = "Overview of studied interval. D=016-018. Y=1995";

// layout
var width = 669, height = 1096;
var plotLeft = 118, plotRight = 650;
var panelTop = 54, panelStep = 142.7, panelH = 125;

var svg = d3.select("body").append("svg")
    .attr("width", width)
    .attr("height", height);

var x = d3.scaleLinear().domain([0, 60]).range([plotLeft, plotRight]);

var panels = [
    { domain: [0, 60], ticks: densityTicks, minor: 7.5, kind: "line", data: density,
      label: ["Ion  density", "(cm"], sup: true,
      note: "GEOTAIL / CPI / SWA", noteX: 165, noteDy: 22, noteSize: 18 },
    { domain: [0, 6000], ticks: energyTicks, minor: 1000, kind: "line", data: energy,
      label: ["Ion <E>", "(eV)"],
      note: "GEOTAIL / CPI / HPA", noteX: 160, noteDy: 38, noteSize: 19 },
    { domain: [-500, -100], ticks: vxTicks, minor: 50, kind: "dots", data: vx,
      label: ["Ion  Vx  GSE", "(km/sec)"],
      note: "GEOTAIL / CPI / SWA", noteX: 148, noteDy: 107, noteSize: 18 },
    { domain: [-100, 150], ticks: vyTicks, minor: 25, kind: "dots", data: vy, zero: true,
      label: ["Ion Vy  GSE", "(km/sec)"],
      note: "GEOTAIL / CPI / SWA", noteX: 148, noteDy: 100, noteSize: 18 },
    { domain: [-100, 100], ticks: vzTicks, minor: 25, kind: "dots", data: vz, zero: true,
      label: ["Ion Vz GSE", "( km/sec)"],
      note: "GEOTAIL / CPI / SWA", noteX: 152, noteDy: 97, noteSize: 18 },
    { domain: [-100, 0], ticks: dstTicks, minor: 10, kind: "dst", data: dstValues,
      label: ["Dst  Index", "(nT)"] },
    { domain: [-20, 15], ticks: bzTicks, minor: 5, kind: "line", data: bz, zero: true,
      label: ["Bz  GSE", "(nT)"],
      note: "WIND / MFI", noteX: 490, noteDy: 32, noteSize: 18 }
];

function plainAxis(sel) {
    sel.select(".domain").remove();
    sel.attr("font-size", null).attr("font-family", null);
    sel.selectAll(".tick line").attr("stroke", "#000").attr("stroke-width", 1);
}

var hourMinor = d3.range(0, 61, 1);

panels.forEach(function (p, i) {
    var top = panelTop + i * panelStep;
    var bottom = top + panelH;
    var y = d3.scaleLinear().domain(p.domain).range([bottom, top]);
    var g = svg.append("g");

    g.append("clipPath").attr("id", "clip" + i)
        .append("rect")
        .attr("x", plotLeft).attr("y", top)
        .attr("width", plotRight - plotLeft).attr("height", panelH);

    var yMinor = d3.range(p.domain[0], p.domain[1] + 1e-6, p.minor);

    // y axes, ticks pointing inward
    g.append("g").attr("transform", "translate(" + plotLeft + ",0)")
        .call(d3.axisLeft(y).tickValues(yMinor).tickSize(-5).tickFormat(""))
        .call(plainAxis);
    g.append("g").attr("transform", "translate(" + plotLeft + ",0)")
        .call(d3.axisLeft(y).tickValues(p.ticks).tickSize(-9).tickPadding(11)
            .tickFormat(function (d) { return String(d); }))
        .call(plainAxis)
        .selectAll("text").attr("font-size", 17);
    g.append("g").attr("transform", "translate(" + plotRight + ",0)")
        .call(d3.axisRight(y).tickValues(yMinor).tickSize(-5).tickFormat(""))
        .call(plainAxis);
    g.append("g").attr("transform", "translate(" + plotRight + ",0)")
        .call(d3.axisRight(y).tickValues(p.ticks).tickSize(-9).tickFormat(""))
        .call(plainAxis);

    // x axes: top ticks inward, bottom ticks hang below
    g.append("g").attr("transform", "translate(0," + top + ")")
        .call(d3.axisTop(x).tickValues(hourMinor).tickSize(-4).tickFormat(""))
        .call(plainAxis);
    g.append("g").attr("transform", "translate(0," + top + ")")
        .call(d3.axisTop(x).tickValues(hourTicks).tickSize(-7).tickFormat(""))
        .call(plainAxis);
    g.append("g").attr("transform", "translate(0," + bottom + ")")
        .call(d3.axisBottom(x).tickValues(hourMinor).tickSize(4).tickFormat(""))
        .call(plainAxis);
    var last = i === panels.length - 1;
    var xl = g.append("g").attr("transform", "translate(0," + bottom + ")")
        .call(d3.axisBottom(x).tickValues(hourTicks).tickSize(7).tickPadding(15)
            .tickFormat(function (d) { return last ? (d % 24) + ":00" : ""; }))
        .call(plainAxis);
    xl.selectAll("text").attr("font-size", 16);
    // keep the final "12:00" inside the page
    xl.selectAll(".tick").filter(function (d) { return d === 60; })
        .select("text").attr("dx", -3);

    // frame
    g.append("rect")
        .attr("x", plotLeft).attr("y", top)
        .attr("width", plotRight - plotLeft).attr("height", panelH)
        .attr("fill", "none").attr("stroke", "#000").attr("stroke-width", 1.3);

    if (p.zero) {
        g.append("line")
            .attr("x1", plotLeft).attr("x2", plotRight)
            .attr("y1", y(0)).attr("y2", y(0))
            .attr("stroke", "#000").attr("stroke-width", 1.1)
            .attr("stroke-dasharray", "9,5");
    }

    var plot = g.append("g").attr("clip-path", "url(#clip" + i + ")");

    if (p.kind === "line") {
        plot.append("path")
            .datum(p.data)
            .attr("fill", "none").attr("stroke", "#111").attr("stroke-width", 1.1)
            .attr("stroke-linejoin", "round")
            .attr("d", d3.line().x(function (d) { return x(d[0]); }).y(function (d) { return y(d[1]); }));
    } else if (p.kind === "dots") {
        plot.selectAll("circle").data(p.data).enter().append("circle")
            .attr("cx", function (d) { return x(d[0]); })
            .attr("cy", function (d) { return y(d[1]); })
            .attr("r", 2).attr("fill", "#000");
    } else if (p.kind === "dst") {
        var pts = p.data.map(function (v, k) { return [k + 1, v]; });
        plot.append("path")
            .datum(pts)
            .attr("fill", "none").attr("stroke", "#111").attr("stroke-width", 1)
            .attr("d", d3.line().x(function (d) { return x(d[0]); }).y(function (d) { return y(d[1]); }));
        plot.selectAll("circle").data(pts).enter().append("circle")
            .attr("cx", function (d) { return x(d[0]); })
            .attr("cy", function (d) { return y(d[1]); })
            .attr("r", 3).attr("fill", "#000");
    }

    if (p.note) {
        g.append("text")
            .attr("x", p.noteX).attr("y", top + p.noteDy)
            .attr("font-size", p.noteSize)
            .text(p.note);
    }

    // y axis title, two rotated lines
    var cy = (top + bottom) / 2;
    g.append("text")
        .attr("transform", "translate(43," + cy + ") rotate(-90)")
        .attr("text-anchor", "middle").attr("font-size", 21)
        .style("white-space", "pre")
        .text(p.label[0]);
    var t2 = g.append("text")
        .attr("transform", "translate(61," + cy + ") rotate(-90)")
        .attr("text-anchor", "middle").attr("font-size", 21)
        .style("white-space", "pre");
    t2.append("tspan").text(p.label[1]);
    if (p.sup) {
        t2.append("tspan").attr("dx", 4).attr("dy", -8).attr("font-size", 15).text("-3");
        t2.append("tspan").attr("dy", 8).text(")");
    }
});

// title
svg.append("text")
    .attr("x", 390).attr("y", 27)
    .attr("text-anchor", "middle").attr("font-size", 25)
    .text(titleText);

// day labels under the bottom axis
var dayLabels = [
    { t: 13.5, text: "DAY  16" },
    { t: 37, text: "DAY   17" },
    { t: 56.8, text: "UT" }
];
var dayMarks = [24, 48];

svg.selectAll(".day").data(dayLabels).enter().append("text")
    .attr("class", "day")
    .attr("x", function (d) { return x(d.t); })
    .attr("y", 1093)
    .attr("text-anchor", "middle").attr("font-size", 21)
    .style("white-space", "pre")
    .text(function (d) { return d.text; });

svg.selectAll(".daymark").data(dayMarks).enter().append("line")
    .attr("class", "daymark")
    .attr("x1", function (d) { return x(d); }).attr("x2", function (d) { return x(d); })
    .attr("y1", 1077).attr("y2", 1092)
    .attr("stroke", "#000").attr("stroke-width", 1.6);
</script>
</body>
</html>
